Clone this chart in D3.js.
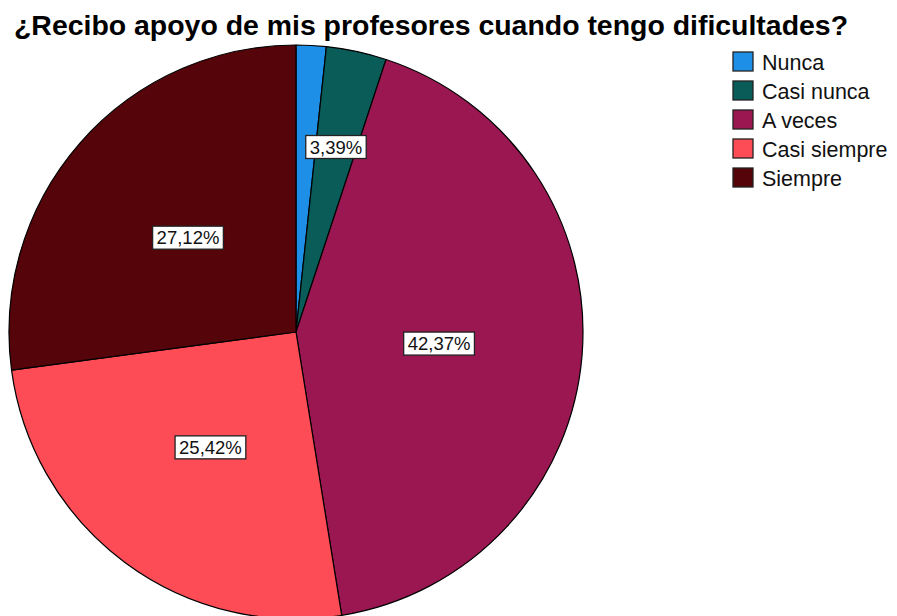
<!DOCTYPE html>
<html><head><meta charset="utf-8">
<script src="https://cdn.jsdelivr.net/npm/d3@7"></script>
<style>body{margin:0;background:#fff}svg{display:block}</style>
</head><body>
<script>
const title = "¿Recibo apoyo de mis profesores cuando tengo dificultades?";
const categories = ["Nunca","Casi nunca","A veces","Casi siempre","Siempre"];
const percentages = [1.69, 3.39, 42.37, 25.42, 27.12];
const showLabel = [false, true, true, true, true];
const colors = ["#1e8fe6","#0a5c58","#9b1752","#fd4c55","#550409"];

const W = 897, H = 616;
const svg = d3.select("body").append("svg").attr("width", W).attr("height", H);

svg.append("text").attr("x", 14).attr("y", 35)
  .attr("font-family", "Liberation Sans, Arial, sans-serif")
  .attr("font-weight", "bold").attr("font-size", 28).attr("fill", "#000")
  .attr("textLength", 834).attr("lengthAdjust", "spacingAndGlyphs")
  .text(title);

const cx = 296, cy = 332, r = 287;
const data = categories.map((c, i) => ({cat: c, v: percentages[i], show: showLabel[i], color: colors[i]}));
const pie = d3.pie().value(d => d.v).sort(null);
const arc = d3.arc().innerRadius(0).outerRadius(r);
const arcs = pie(data);
const g = svg.append("g").attr("transform", `translate(${cx},${cy})`);
g.selectAll("path").data(arcs).join("path")
  .attr("d", arc).attr("fill", d => d.data.color)
  .attr("stroke", "#000").attr("stroke-width", 1.2).attr("stroke-linejoin", "round");

const fmt = v => v.toFixed(2).replace(".", ",") + "%";
const labelArc = d => {
  const frac = d.data.v < 5 ? 0.66 : 0.5;
  return d3.arc().innerRadius(0).outerRadius(2 * r * frac).centroid(d);
};
const lg = g.selectAll("g.lbl").data(arcs.filter(d => d.data.show)).join("g")
  .attr("class", "lbl")
  .attr("transform", d => { const p = labelArc(d); return `translate(${p[0]},${p[1]})`; });
lg.append("text").attr("text-anchor", "middle").attr("dy", "0.36em")
  .attr("font-family", "Liberation Sans, Arial, sans-serif").attr("font-size", 18.5)
  .attr("fill", "#111").text(d => fmt(d.data.v));
lg.each(function() {
  const t = d3.select(this).select("text");
  const b = t.node().getBBox();
  d3.select(this).insert("rect", "text")
    .attr("x", b.x - 4).attr("y", b.y - 1).attr("width", b.width + 8).attr("height", b.height + 2)
    .attr("fill", "#fff").attr("stroke", "#222").attr("stroke-width", 1.3);
});

const leg = svg.append("g").attr("transform", "translate(733,52)");
const items = leg.selectAll("g").data(data).join("g")
  .attr("transform", (d, i) => `translate(0,${i * 29})`);
items.append("rect").attr("width", 20).attr("height", 19)
  .attr("fill", d => d.color).attr("stroke", "#222").attr("stroke-width", 1.3);
items.append("text").attr("x", 29).attr("y", 18)
  .attr("font-family", "Liberation Sans, Arial, sans-serif").attr("font-size", 21.5)
  .attr("fill", "#111").text(d => d.cat);
</script>
</body></html>
